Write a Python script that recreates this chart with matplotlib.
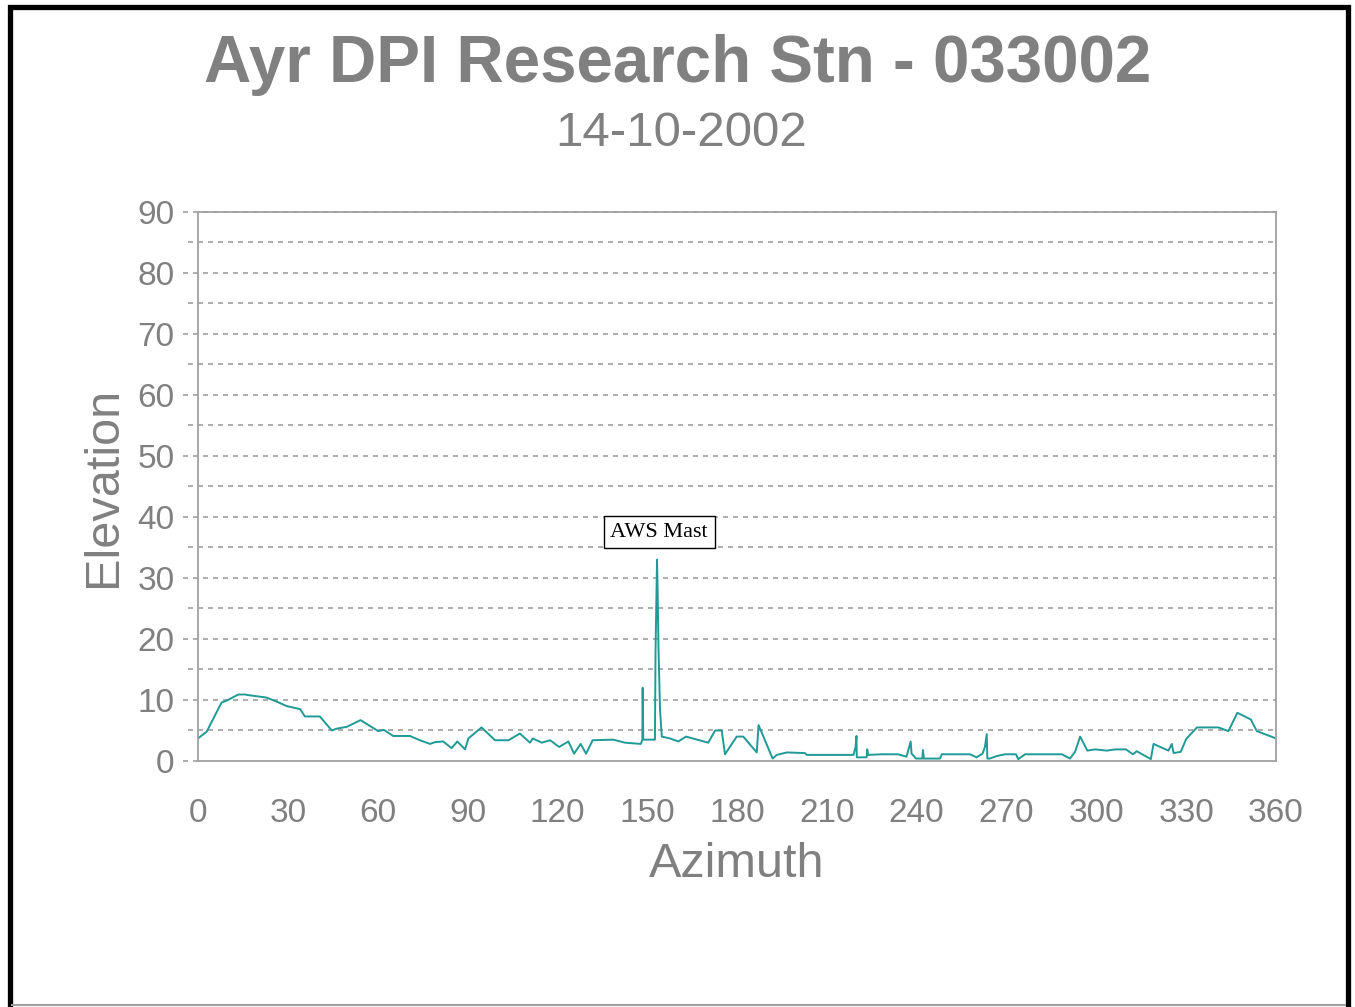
import matplotlib
matplotlib.use("Agg")
from matplotlib import pyplot as plt
from matplotlib.patches import Rectangle
from matplotlib.lines import Line2D

# horizon profile (azimuth deg, elevation deg)
azimuth = [0.0, 2.9, 7.9, 9.6, 13.5, 15.7, 16.8, 22.9, 27.4, 29.6,
           34.1, 35.7, 40.7, 44.7, 46.3, 49.7, 54.3, 60.2, 62.1, 65.2,
           70.8, 74.1, 77.5, 79.2, 81.9, 84.7, 86.6, 89.2, 90.3, 94.7,
           99.2, 103.7, 107.5, 110.9, 111.8, 114.8, 117.6, 120.6, 123.7, 125.6,
           127.8, 129.6, 131.8, 138.7, 142.6, 147.9, 148.4, 148.5, 148.7, 152.6,
           152.8, 153.3, 153.5, 153.8, 154.3, 154.9, 157.6, 160.4, 163.0, 170.4,
           172.7, 174.9, 176.0, 179.9, 182.1, 186.6, 187.2, 191.9, 193.3, 196.6,
           202.7, 203.3, 218.9, 219.6, 219.9, 220.0, 223.3, 223.5, 223.8, 228.3,
           233.8, 236.6, 237.5, 238.0, 238.3, 239.8, 241.9, 242.1, 242.4, 247.8,
           248.4, 257.8, 260.0, 262.0, 262.8, 263.4, 263.6, 264.5, 266.7, 269.5,
           273.2, 273.9, 276.2, 288.5, 291.2, 292.9, 294.6, 297.0, 299.6, 303.5,
           306.3, 309.9, 312.2, 313.5, 318.2, 319.1, 324.1, 325.2, 325.8, 328.2,
           330.0, 333.6, 340.8, 344.1, 347.1, 351.6, 353.6, 360.0]
elevation = [3.7, 4.8, 9.6, 9.9, 10.9, 10.9, 10.8, 10.4, 9.5, 9.0,
             8.5, 7.3, 7.3, 5.0, 5.3, 5.6, 6.7, 4.9, 5.1, 4.1,
             4.1, 3.4, 2.8, 3.1, 3.2, 2.1, 3.2, 1.9, 3.7, 5.5,
             3.4, 3.4, 4.5, 3.0, 3.7, 3.0, 3.4, 2.3, 3.2, 1.2,
             2.8, 1.2, 3.4, 3.5, 3.0, 2.8, 3.5, 12.0, 3.5, 3.5,
             18.1, 33.0, 27.8, 18.2, 8.4, 4.0, 3.7, 3.2, 4.0, 3.0,
             5.0, 5.0, 1.1, 4.0, 4.0, 1.4, 5.9, 0.4, 1.0, 1.4,
             1.3, 1.0, 1.0, 2.3, 4.1, 0.6, 0.6, 1.9, 1.0, 1.1,
             1.1, 0.7, 2.3, 3.2, 1.2, 0.4, 0.4, 1.8, 0.4, 0.4,
             1.1, 1.1, 0.6, 1.2, 2.3, 4.4, 0.4, 0.4, 0.8, 1.1,
             1.1, 0.3, 1.1, 1.1, 0.4, 1.5, 4.0, 1.7, 1.9, 1.7,
             1.9, 1.9, 1.1, 1.6, 0.3, 2.8, 1.7, 2.8, 1.3, 1.5,
             3.6, 5.5, 5.5, 4.9, 7.9, 6.8, 4.9, 3.7]

xticks = list(range(0, 361, 30))
yticks = list(range(0, 91, 10))
minor_y = list(range(5, 90, 10))

grey = '#808080'
fig = plt.figure(figsize=(13.55, 10.07), dpi=100)
ax = fig.add_axes([0.1461, 0.2443, 0.7956, 0.5452])

# dashed gridlines that also poke out left of the axis like tick marks
for y in yticks:
    x0 = 0 if y == 0 else 1
    ax.add_line(Line2D([-0.014, x0], [y, y], transform=ax.get_yaxis_transform(),
                       color='#a0a0a0', lw=1.2, ls=(0, (3, 3)), clip_on=False))
for y in minor_y:
    ax.add_line(Line2D([-0.009, 1], [y, y], transform=ax.get_yaxis_transform(),
                       color='#a0a0a0', lw=1.2, ls=(0, (3, 3)), clip_on=False))

ax.plot(azimuth, elevation, color='#1f9a96', lw=1.4)

ax.text(154.0, 37.5, 'AWS Mast', family='Liberation Serif', fontsize=16,
        ha='center', va='center',
        bbox=dict(boxstyle='square,pad=0.3', fc='white', ec='black', lw=1))

ax.set_xlim(0, 360)
ax.set_ylim(0, 90)
ax.set_xticks(xticks)
ax.set_yticks(yticks)
ax.tick_params(axis='both', length=0, labelsize=24, labelcolor=grey)
ax.tick_params(axis='x', pad=27)
ax.tick_params(axis='y', pad=17)
for s in ax.spines.values():
    s.set_color('#a0a0a0')
    s.set_linewidth(1.3)
for lab in ax.get_xticklabels() + ax.get_yticklabels():
    lab.set_family('Liberation Sans')

ax.set_xlabel('Azimuth', family='Liberation Sans', fontsize=35, color=grey, labelpad=9)
ax.set_ylabel('Elevation', family='Liberation Sans', fontsize=35, color=grey, labelpad=8)

fig.text(0.5, 1 - 65 / 1007, 'Ayr DPI Research Stn - 033002', family='Liberation Sans',
         fontsize=47.2, fontweight='bold', color=grey, ha='center', va='center')
fig.text(0.503, 1 - 133 / 1007, '14-10-2002', family='Liberation Sans',
         fontsize=35.5, color=grey, ha='center', va='center')

# outer frame
top = 1 - 6.5 / 1007
fig.patches.append(Rectangle((9.5 / 1355, -0.01), (1347.5 - 9.5) / 1355, top + 0.01,
                             transform=fig.transFigure, fill=False, ec='black', lw=3.8))
fig.add_artist(Line2D([12 / 1355, 1345 / 1355], [1 - 1005 / 1007] * 2, transform=fig.transFigure,
                      color='#a0a0a0', lw=1.5))

fig.savefig('out.png', dpi=100)
